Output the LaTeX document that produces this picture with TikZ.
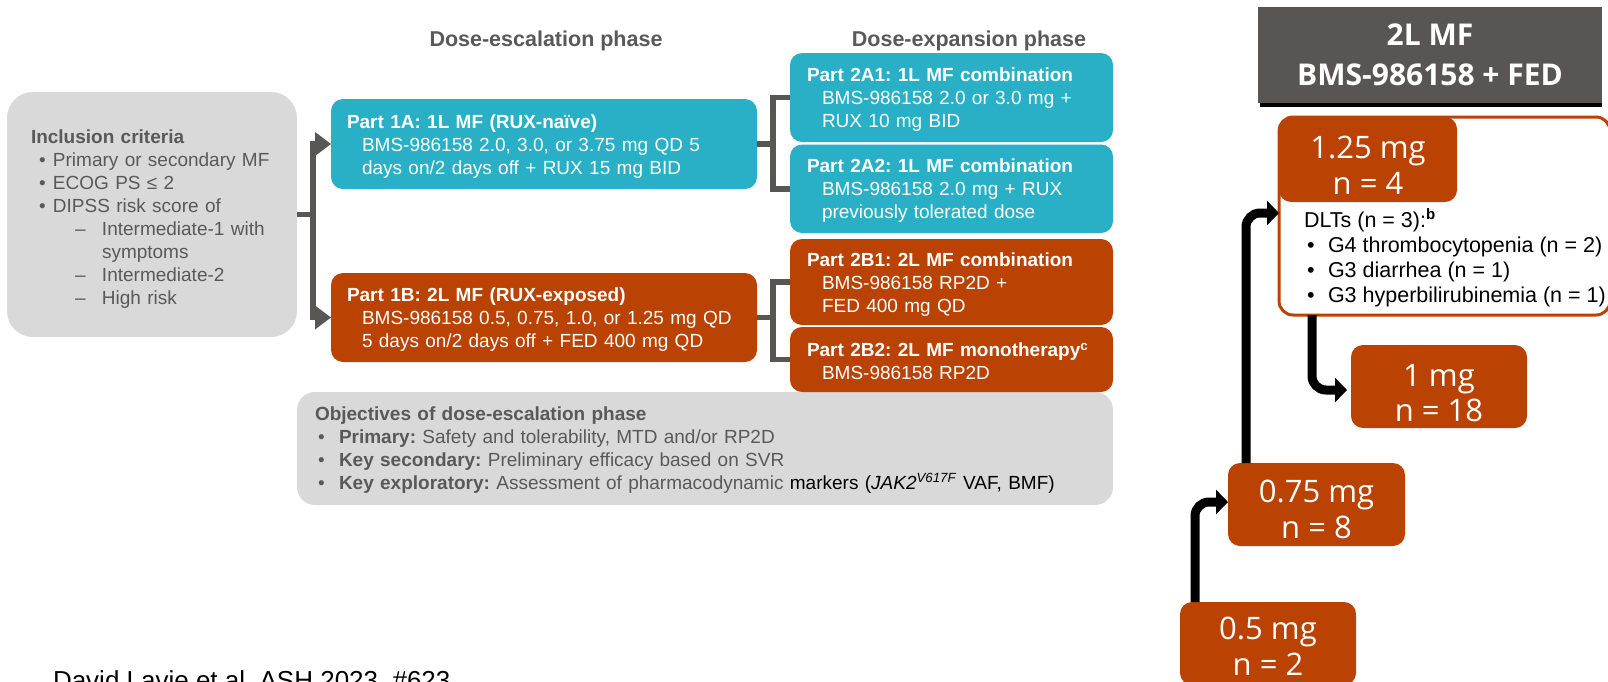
\documentclass[tikz,border=0pt]{standalone}
\usepackage{fontspec}
\setmainfont{Liberation Sans}
\newfontfamily\osans{Open Sans}
\usetikzlibrary{arrows.meta,calc}
\definecolor{tealbox}{RGB}{41,176,198}
\definecolor{rust}{RGB}{186,66,2}
\definecolor{lgray}{RGB}{217,217,217}
\definecolor{tgray}{RGB}{89,89,89}
\definecolor{hgray}{RGB}{89,85,84}
\definecolor{lgrayline}{RGB}{89,86,86}
\newcommand{\ind}{\hspace*{15pt}}
\newcommand{\bul}{\hspace*{3pt}\makebox[21pt][l]{•}}
\newcommand{\topstrut}[1]{\rule{0pt}{#1}}
\frenchspacing
\begin{document}
\begin{tikzpicture}[x=1pt,y=-1pt,
  every node/.style={outer sep=0pt},
  box/.style={anchor=north west, rounded corners=12pt, inner xsep=16pt, inner ysep=0pt,
    align=left, text=white, font=\fontsize{19}{23}\selectfont},
  ebox/.style={box, inner xsep=17pt, minimum width=323pt, text width=289pt},
  numbox/.style={anchor=north west, fill=rust, rounded corners=12pt, inner sep=0pt,
    align=center, text=white, font=\osans\fontsize{31}{36}\selectfont},
  gl/.style={draw=lgrayline, line width=5.5pt},
  arr/.style={draw=black, line width=9pt, rounded corners=14pt, -{Triangle[length=12pt,width=24pt]}},
  phase/.style={font=\bfseries\fontsize{21.5}{25}\selectfont, text=tgray, inner sep=0pt}
]
\useasboundingbox (0,0) rectangle (1608,681);
\clip (0,0) rectangle (1608,681);

% titles
\node[phase] (t1) at (546,41) {Dose-escalation phase};
\node[phase] (t2) at (969,41) {Dose-expansion phase};

% inclusion criteria
\node[box, fill=lgray, text=tgray, rounded corners=26pt, minimum width=290pt, minimum height=245pt,
  inner xsep=24pt, text width=242pt] (incl) at (7,92) {%
\topstrut{22pt}\textbf{Inclusion criteria}\\
\hspace*{8pt}\makebox[14pt][l]{•}Primary or secondary MF\\
\hspace*{8pt}\makebox[14pt][l]{•}ECOG PS ≤ 2\\
\hspace*{8pt}\makebox[14pt][l]{•}DIPSS risk score of\\
\hspace*{44pt}\makebox[27pt][l]{–}Intermediate-1 with\\
\hspace*{71pt}symptoms\\
\hspace*{44pt}\makebox[27pt][l]{–}Intermediate-2\\
\hspace*{44pt}\makebox[27pt][l]{–}High risk};

% objectives
\node[box, fill=lgray, text=tgray, rounded corners=18pt, minimum width=816pt, minimum height=113pt,
  inner xsep=18pt, text width=780pt] (obj) at (297,392) {%
\topstrut{16pt}\textbf{Objectives of dose-escalation phase}\\
\bul\textbf{Primary:} Safety and tolerability, MTD and/or RP2D\\
\bul\textbf{Key secondary:} Preliminary efficacy based on SVR\\
\bul\textbf{Key exploratory:} Assessment of pharmacodynamic {\color{black}markers (\textit{JAK2}\textsuperscript{\textit{V617F}} VAF, BMF)}};

% dose-escalation boxes
\node[box, fill=tealbox, minimum width=426pt, minimum height=90pt, text width=394pt] (p1a) at (331,99) {%
\topstrut{18pt}\textbf{Part 1A: 1L MF (RUX-naïve)}\\
\ind BMS-986158 2.0, 3.0, or 3.75 mg QD 5\\
\ind days on/2 days off + RUX 15 mg BID};
\node[box, fill=rust, minimum width=426pt, minimum height=89pt, text width=394pt] (p1b) at (331,273) {%
\topstrut{18pt}\textbf{Part 1B: 2L MF (RUX-exposed)}\\
\ind BMS-986158 0.5, 0.75, 1.0, or 1.25 mg QD\\
\ind 5 days on/2 days off + FED 400 mg QD};

% dose-expansion boxes
\node[ebox, fill=tealbox, minimum height=89pt] (p2a1) at (790,53) {%
\topstrut{18pt}\textbf{Part 2A1: 1L MF combination}\\
\ind BMS-986158 2.0 or 3.0 mg +\\
\ind RUX 10 mg BID};
\node[ebox, fill=tealbox, minimum height=88.5pt] (p2a2) at (790,144.5) {%
\topstrut{18pt}\textbf{Part 2A2: 1L MF combination}\\
\ind BMS-986158 2.0 mg + RUX\\
\ind previously tolerated dose};
\node[ebox, fill=rust, minimum height=86pt] (p2b1) at (790,239) {%
\topstrut{18pt}\textbf{Part 2B1: 2L MF combination}\\
\ind BMS-986158 RP2D +\\
\ind FED 400 mg QD};
\node[ebox, fill=rust, minimum height=65pt] (p2b2) at (790,327) {%
\topstrut{18pt}\textbf{Part 2B2: 2L MF monotherapy\textsuperscript{c}}\\
\ind BMS-986158 RP2D};

% connectors (left bracket)
\coordinate (bx) at ($(incl.east)+(16,0)$);
\draw[gl] (incl.east) -- (bx);
\draw[gl, {Triangle[length=16pt,width=23pt]}-{Triangle[length=16pt,width=23pt]}]
  (p1a.west) -| (bx) |- (p1b.west);

% right brackets
\draw[gl] (p1a.east) -- ++(16,0) coordinate (ra);
\draw[gl] (p2a1.west) -| (ra) |- (p2a2.west);
\draw[gl] (p1b.east) -- ++(16,0) coordinate (rb);
\draw[gl] (p2b1.west) -| (rb) |- (p2b2.west);

% right panel header
\fill[black] (1260,102) rectangle (1602,107);
\node[anchor=north west, fill=hgray, minimum width=344pt, minimum height=96pt, inner sep=0pt,
  align=center, text=white, font=\osans\bfseries\fontsize{30}{40}\selectfont] (hdr) at (1258,7)
  {2L MF\\BMS-986158 + FED};

% DLT box
\node[anchor=north west, draw=rust, line width=3pt, fill=white, rounded corners=14pt,
  minimum width=331pt, minimum height=198pt] (dlt) at (1279,117) {};
\node[numbox, minimum width=178pt, minimum height=85pt] (n125) at (1279,117) {\topstrut{33pt}1.25 mg\\n = 4};
\node[anchor=north west, inner sep=0pt, align=left, font=\fontsize{21.5}{25}\selectfont] (dlttxt) at (1304,209) {%
DLTs (n = 3):\textsuperscript{\textbf{b}}\\
\bul G4 thrombocytopenia (n = 2)\\
\bul G3 diarrhea (n = 1)\\
\bul G3 hyperbilirubinemia (n = 1)};

% dose boxes
\node[numbox, minimum width=176pt, minimum height=83pt, font=\osans\fontsize{31}{35}\selectfont] (n1) at (1351,345) {\topstrut{35pt}1 mg\\n = 18};
\node[numbox, minimum width=177pt, minimum height=83pt, font=\osans\fontsize{31}{36}\selectfont] (n075) at (1228,463) {\topstrut{33pt}0.75 mg\\n = 8};
\node[numbox, minimum width=176pt, minimum height=83pt] (n05) at (1180,602) {\topstrut{28pt}0.5 mg\\n = 2};

% arrows
\draw[arr] ([xshift=18pt]n075.north west) |- ([yshift=-96pt]dlt.north west);
\draw[arr] ([xshift=33pt]dlt.south west) |- ([xshift=-4pt,yshift=-45pt]n1.north west);
\draw[arr] ([xshift=15pt]n05.north west) |- ([yshift=-39pt]n075.north west);

% citation
\node[anchor=base west, inner sep=0pt, font=\fontsize{26}{30}\selectfont] (cite) at (53,689)
  {David Lavie et al. ASH 2023, \#623};
\end{tikzpicture}
\end{document}
